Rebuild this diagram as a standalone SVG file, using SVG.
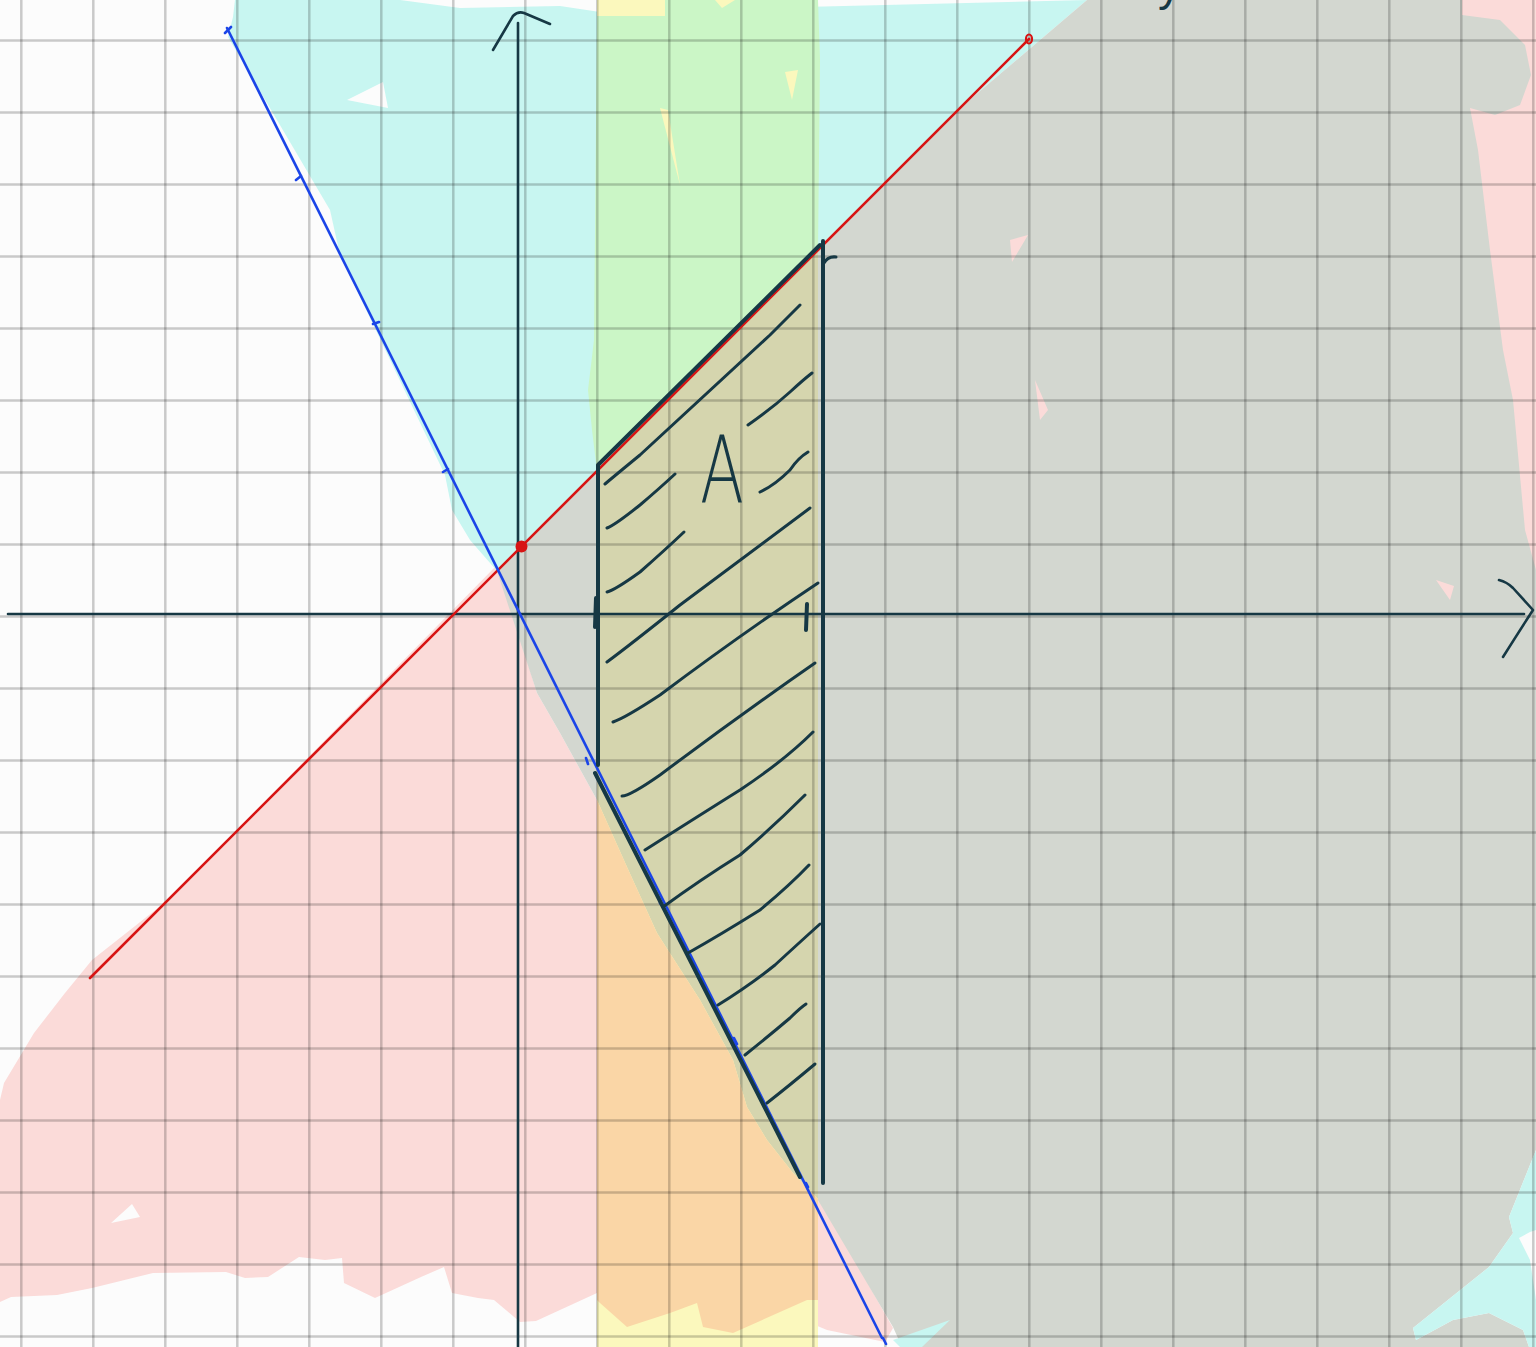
<svg xmlns="http://www.w3.org/2000/svg" width="1536" height="1347" viewBox="0 0 1536 1347">
<style>
.ink{fill:none;stroke:#163844;stroke-linecap:round;stroke-linejoin:round}
.axis{stroke-width:2.6}
.bold{stroke-width:4}
.hatch{stroke-width:3}
.grid{fill:none;stroke:#000;stroke-opacity:0.2;stroke-width:2.5}
.blue{fill:none;stroke:#1b45e8;stroke-width:2.6;stroke-linecap:round}
.red{fill:none;stroke:#d71414;stroke-width:2.6;stroke-linecap:round}
</style>
<g id="background">
<rect x="0" y="0" width="1536" height="1347" fill="#fcfcfc"/>
</g>
<g id="regions">
<path id="pink-left" fill="#fbdbd9" d="M0 1100 L4 1083 L34 1033 L65 993 L92 960 L168 900 L497 565 L500 573 L537 693 L560 733 L597 800 L597 1293 L536 1321 L520 1322 L494 1300 L478 1298 L452 1293 L444 1267 L421 1277 L375 1298 L344 1283 L342 1258 L325 1260 L299 1257 L268 1277 L245 1278 L226 1272 L153 1273 L92 1288 L57 1295 L11 1297 L0 1302 Z"/>
<path id="pink-right" fill="#fbdbd9" d="M1300 0 L1536 0 L1536 600 L1500 600 L1470 110 L1460 10 L1300 12 Z"/>
<path id="pink-bottom" fill="#fbdbd9" d="M815 1190 L893 1328 L885 1342 L827 1330 L815 1325 Z"/>
<path id="cyan" fill="#c8f6f1" d="M235 0 L400 0 L460 8 L560 6 L600 12 L1087 0 L960 108 L497 571 L470 540 L452 510 L445 475 L340 255 L330 210 L228 37 L233 17 Z"/>
<path id="gray" fill="#d3d7d0" d="M497 571 L960 108 L1087 0 L1462 0 L1462 15 L1500 20 L1525 45 L1531 75 L1520 105 L1495 115 L1470 108 L1478 150 L1490 250 L1503 350 L1513 400 L1525 530 L1536 570 L1536 1150 L1509 1217 L1513 1233 L1489 1267 L1413 1328 L1416 1340 L1453 1320 L1489 1313 L1523 1330 L1529 1347 L902 1347 L893 1327 L815 1195 L597 800 L560 733 L537 693 Z"/>
<path id="cyan-corner" fill="#c8f6f1" d="M1536 1150 L1509 1217 L1513 1233 L1489 1267 L1413 1328 L1416 1340 L1453 1320 L1489 1313 L1523 1330 L1529 1347 L1536 1347 Z"/>
<path id="white-corner" fill="#fcfcfc" d="M1519 1238 L1530 1232 L1536 1230 L1536 1300 L1530 1260 Z"/>
<path id="cyan-bit" fill="#c8f6f1" d="M893 1340 L950 1320 L922 1347 L900 1347 Z"/>
<rect id="yellow-band" x="597" y="0" width="221" height="1347" fill="#fbf8bd"/>
<path id="green" fill="#cbf6c6" d="M665 16 L665 0 L818 0 L820 60 L818 250 L597 471 L592 430 L588 390 L594 340 L597 16 Z"/>
<path id="olive" fill="#d5d5ae" d="M597 471 L818 250 L818 1199 L793 1173 L767 1140 L747 1107 L733 1060 L700 1000 L657 933 L627 867 L597 800 Z"/>
<path id="orange" fill="#fad6a6" d="M597 800 L627 867 L657 933 L700 1000 L733 1060 L747 1107 L767 1140 L793 1173 L818 1199 L818 1300 L807 1300 L733 1333 L703 1327 L697 1303 L670 1313 L627 1327 L600 1303 L597 1300 Z"/>
<path id="specks" fill="#fcfcfc" d="M347 100 L383 82 L388 108 Z M111 1223 L132 1204 L140 1217 Z"/>
<path id="yellow-specks" fill="#fbf8bd" d="M785 72 L798 70 L792 100 Z M660 108 L668 110 L680 185 Z M715 0 L735 0 L722 8 Z"/>
<path id="pink-specks" fill="#fbdbd9" d="M1436 580 L1454 586 L1450 600 Z M1035 380 L1048 410 L1040 420 Z M1010 240 L1028 235 L1012 262 Z"/>
</g>
<g id="grid">
<path class="grid" d="M21.3 0V1347M93.3 0V1347M165.3 0V1347M237.3 0V1347M309.3 0V1347M381.3 0V1347M453.3 0V1347M525.3 0V1347M597.3 0V1347M669.3 0V1347M741.3 0V1347M813.3 0V1347M885.3 0V1347M957.3 0V1347M1029.3 0V1347M1101.3 0V1347M1173.3 0V1347M1245.3 0V1347M1317.3 0V1347M1389.3 0V1347M1461.3 0V1347M1533.3 0V1347"/>
<path class="grid" d="M0 40.5H1536M0 112.5H1536M0 184.5H1536M0 256.5H1536M0 328.5H1536M0 400.5H1536M0 472.5H1536M0 544.5H1536M0 616.5H1536M0 688.5H1536M0 760.5H1536M0 832.5H1536M0 904.5H1536M0 976.5H1536M0 1048.5H1536M0 1120.5H1536M0 1192.5H1536M0 1264.5H1536M0 1336.5H1536"/>
</g>
<g id="axes">
<path class="ink axis" d="M518 23 V1347"/>
<path class="ink axis" d="M493 50 L513 16 Q518 11 524 13 L550 24"/>
<path class="ink axis" d="M8 614 H1524"/>
<path class="ink axis" d="M1499 580 Q1507 582 1513 588 L1533 610 Q1520 630 1503 657"/>
<path class="ink bold" d="M596 598 L595 627 M807 604 L806 630"/>
</g>
<g id="lines">
<path class="red" d="M90 978 L1029 39"/>
<circle cx="521.5" cy="546.5" r="6" fill="#d71414"/>
<ellipse cx="1029" cy="39" rx="3" ry="4.5" fill="none" stroke="#d71414" stroke-width="2.2"/>
<path class="blue" d="M227 28 L882 1338"/>
<path class="blue" stroke-width="2" d="M296 180 L301 176 M373 324 L379 322 M443 472 L448 469 M586 758 L588 764 M660 903 L664 908 M734 1038 L737 1044 M806 1183 L808 1187 M883 1338 L886 1344 M225 33 L231 27"/>
</g>
<g id="region-A">
<path class="ink bold" d="M598 765 V465 L820 245"/>
<path class="ink bold" d="M823 241 V1183"/>
<path class="ink" stroke-width="3" d="M824 263 Q828 256 836 257"/>
<path class="ink bold" d="M595 773 L800 1177"/>
<path class="ink hatch" d="M605 484 Q612 478 640 455 Q700 400 770 335 Q790 315 800 305"/>
<path class="ink hatch" d="M607 528 Q615 525 640 505 Q660 488 675 474"/>
<path class="ink hatch" d="M748 425 Q770 410 790 392 Q803 380 812 373"/>
<path class="ink hatch" d="M760 492 Q775 485 790 470 Q798 458 808 452"/>
<path class="ink hatch" d="M607 592 Q615 590 640 572 Q665 550 684 532"/>
<path class="ink hatch" d="M607 662 Q630 645 680 605 Q740 560 810 508"/>
<path class="ink hatch" d="M613 722 Q625 718 660 695 Q740 635 818 583"/>
<path class="ink hatch" d="M622 796 Q630 796 660 775 Q740 715 815 663"/>
<path class="ink hatch" d="M645 850 Q700 815 740 790 Q785 760 813 732"/>
<path class="ink hatch" d="M663 907 Q700 880 740 855 Q775 825 805 795"/>
<path class="ink hatch" d="M688 953 Q720 935 760 910 Q790 885 809 865"/>
<path class="ink hatch" d="M718 1005 Q750 985 775 965 Q800 942 820 924"/>
<path class="ink hatch" d="M745 1055 Q770 1035 790 1018 Q800 1008 806 1004"/>
<path class="ink hatch" d="M767 1103 Q790 1085 815 1064"/>
<text x="722" y="502" text-anchor="middle" font-family="DejaVu Sans, Liberation Sans, sans-serif" font-size="92" font-weight="200" fill="#163844" transform="translate(722 0) scale(0.7 1) translate(-722 0)">A</text>
</g>
<g id="labels">
<text x="1158" y="0" font-family="Liberation Sans, Arial, sans-serif" font-size="46" fill="#163844">y</text>
</g>
</svg>
